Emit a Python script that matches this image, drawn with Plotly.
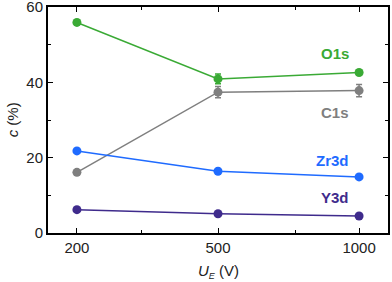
import plotly.graph_objects as go

voltages = ["200", "500", "1000"]
xpos = [0, 1, 2]
o1s = [55.9, 40.9, 42.6]
o1s_err = [0, 1.3, 0.7]
c1s = [16.1, 37.4, 37.8]
c1s_err = [0, 1.5, 1.6]
zr3d = [21.8, 16.4, 14.9]
y3d = [6.2, 5.1, 4.5]

series = [
    ("O1s", o1s, o1s_err, "#3aaa35"),
    ("C1s", c1s, c1s_err, "#7f7f7f"),
    ("Zr3d", zr3d, None, "#1f6bff"),
    ("Y3d", y3d, None, "#3f2b8c"),
]

fig = go.Figure()
for name, vals, err, col in series:
    fig.add_trace(go.Scatter(
        x=xpos, y=vals, mode="lines+markers", name=name,
        line=dict(color=col, width=1.5),
        marker=dict(color=col, size=9),
        error_y=dict(type="data", array=err, color=col, thickness=1.5, width=3, visible=err is not None),
        showlegend=False, cliponaxis=False,
    ))

labels = [("O1s", 47.7, "#3aaa35"), ("C1s", 32.1, "#7f7f7f"), ("Zr3d", 19.3, "#1f6bff"), ("Y3d", 9.4, "#3f2b8c")]
for t, yv, col in labels:
    fig.add_annotation(x=1.94, y=yv, text=f"<b>{t}</b>", showarrow=False, xanchor="right",
                       font=dict(size=15, color=col, family="Liberation Sans"))

tf = dict(size=15, color="#222", family="Liberation Sans")
axis_common = dict(showline=True, linecolor="black", linewidth=2, mirror="allticks",
                   ticks="inside", ticklen=5, tickwidth=1.2, tickcolor="black",
                   showgrid=False, zeroline=False, automargin=False,
                   ticklabeloverflow="allow", tickfont=tf)

fig.update_xaxes(range=[-0.205, 2.205], tickmode="array", tickvals=xpos, ticktext=voltages,
                 minor=dict(tickmode="array", tickvals=[0.46, 1.55], ticks="inside", ticklen=3, tickcolor="black"),
                 **axis_common)
fig.update_yaxes(range=[0, 60], tickmode="array", tickvals=[0, 20, 40, 60],
                 minor=dict(tickmode="array", tickvals=[10, 30, 50], ticks="inside", ticklen=3, tickcolor="black"),
                 **axis_common)

fig.add_annotation(xref="paper", yref="paper", x=0.5, y=-0.12, yanchor="top", showarrow=False,
                   text="<i>U</i><sub><i><span style='font-size:9px'>E</span></i></sub> (V)", font=tf)
fig.add_annotation(xref="paper", yref="paper", x=-0.105, y=0.5, xanchor="center", showarrow=False,
                   textangle=-90, text="<i>c</i> (%)", font=tf)

fig.update_layout(width=392, height=282, margin=dict(l=48, r=4, t=7, b=49, autoexpand=False),
                  plot_bgcolor="white", paper_bgcolor="white")
fig.write_html("out.html", config={"displayModeBar": False},
               post_script="document.body.style.margin='0';document.body.style.overflow='hidden';")
